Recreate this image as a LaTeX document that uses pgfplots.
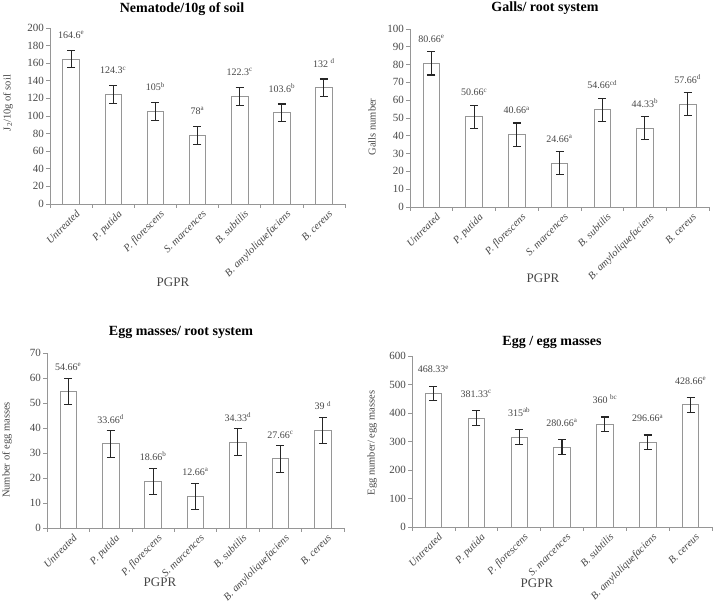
\documentclass[border=0pt]{standalone}
\usepackage{pgfplots}
\pgfplotsset{compat=1.18}
\usepackage{fontspec}
\setmainfont{Liberation Serif}

\definecolor{axgray}{RGB}{150,150,150}
\definecolor{txtgray}{RGB}{70,70,70}

\pgfplotsset{
  panel/.style={
    scale only axis,
    axis lines*=left,
    axis line style={axgray, line width=0.6pt},
    xmin=-0.5, xmax=6.5, ymin=0,
    xtick={0,...,6},
    xticklabels={Untreated, P. putida, P. florescens, S. marcences, B. subtilis, B. amyloliquefaciens, B. cereus},
    major x tick style={draw=none},
    minor xtick={-0.5,0.5,...,6.5},
    minor tick length=4pt,
    major tick length=4pt,
    tick align=outside,
    tick style={axgray, line width=0.6pt},
    xticklabel style={rotate=45, anchor=north east, inner sep=0pt, yshift=-4pt, xshift=2pt,
      font=\itshape\fontsize{10.5}{12}\selectfont, text=txtgray},
    yticklabel style={font=\fontsize{11}{12}\selectfont, text=txtgray, inner sep=2pt},
    /pgf/number format/assume math mode=true,
    clip=false,
  },
  bars/.style={
    ybar, bar width=16.5pt, fill=white, draw=axgray, line width=0.7pt,
    point meta=explicit symbolic,
    nodes near coords,
    nodes near coords style={anchor=south, yshift=17pt,
      font=\fontsize{10}{12}\selectfont, text=txtgray},
    error bars/.cd, y dir=both, y explicit,
    error bar style={black!85, line width=1.1pt},
    error mark options={rotate=90, mark size=4pt, black!85, line width=1.1pt},
  },
}

\begin{document}
\begin{tikzpicture}[x=1pt, y=1pt]
\path[use as bounding box] (0,0) rectangle (720,613);

% Nematode/10g of soil
\begin{axis}[panel, at={(50pt,409pt)}, anchor=south west, width=295pt, height=176pt,
  ymax=200, ytick={0,20,...,200}]
\addplot[bars] table[x=x, y=y, y error=e, meta=lab] {
x y e lab
0 164.6 10 {164.6\textsuperscript{e}}
1 124.3 10 {124.3\textsuperscript{c}}
2 105 10 {105\textsuperscript{b}}
3 78 10 {78\textsuperscript{a}}
4 122.3 10 {122.3\textsuperscript{c}}
5 103.6 10 {103.6\textsuperscript{b}}
6 132 10 {132 \textsuperscript{d}}
};
\end{axis}

% Galls/ root system
\begin{axis}[panel, at={(410pt,406pt)}, anchor=south west, width=299pt, height=178pt,
  ymax=100, ytick={0,10,...,100}]
\addplot[bars] table[x=x, y=y, y error=e, meta=lab] {
x y e lab
0 80.66 6.5 {80.66\textsuperscript{e}}
1 50.66 6.5 {50.66\textsuperscript{c}}
2 40.66 6.5 {40.66\textsuperscript{a}}
3 24.66 6.5 {24.66\textsuperscript{a}}
4 54.66 6.5 {54.66\textsuperscript{cd}}
5 44.33 6.5 {44.33\textsuperscript{b}}
6 57.66 6.5 {57.66\textsuperscript{d}}
};
\end{axis}

% Egg masses/ root system
\begin{axis}[panel, at={(47pt,85pt)}, anchor=south west, width=297pt, height=175pt,
  ymax=70, ytick={0,10,...,70}]
\addplot[bars] table[x=x, y=y, y error=e, meta=lab] {
x y e lab
0 54.66 5.3 {54.66\textsuperscript{e}}
1 33.66 5.3 {33.66\textsuperscript{d}}
2 18.66 5.3 {18.66\textsuperscript{b}}
3 12.66 5.3 {12.66\textsuperscript{a}}
4 34.33 5.3 {34.33\textsuperscript{d}}
5 27.66 5.3 {27.66\textsuperscript{c}}
6 39 5.3 {39 \textsuperscript{d}}
};
\end{axis}

% Egg / egg masses
\begin{axis}[panel, at={(412pt,86pt)}, anchor=south west, width=300pt, height=171pt,
  ymax=600, ytick={0,100,...,600}]
\addplot[bars] table[x=x, y=y, y error=e, meta=lab] {
x y e lab
0 468.33 26 {468.33\textsuperscript{e}}
1 381.33 26 {381.33\textsuperscript{c}}
2 315 26 {315\textsuperscript{ab}}
3 280.66 26 {280.66\textsuperscript{a}}
4 360 26 {360 \textsuperscript{bc}}
5 296.66 26 {296.66\textsuperscript{a}}
6 428.66 26 {428.66\textsuperscript{e}}
};
\end{axis}

% titles
\begin{scope}[every node/.style={font=\bfseries\fontsize{14}{16}\selectfont}]
\node at (182,604) {Nematode/10g of soil};
\node at (545,605) {Galls/ root system};
\node at (181,281) {Egg masses/ root system};
\node at (552,271) {Egg / egg masses};
\end{scope}

% axis titles
\begin{scope}[every node/.style={font=\fontsize{13}{15}\selectfont, text=txtgray}]
\node at (173,331) {PGPR};
\node at (543,335) {PGPR};
\node at (160,31) {PGPR};
\node at (537,30) {PGPR};
\end{scope}
\begin{scope}[every node/.style={font=\fontsize{10.5}{12}\selectfont, text=txtgray, rotate=90}]
\node at (8,510) {J\textsubscript{2}/10g of soil};
\node at (372,486) {Galls number};
\node at (7,163) {Number of egg masses};
\node at (372,170) {Egg number/ egg masses};
\end{scope}
\end{tikzpicture}
\end{document}
